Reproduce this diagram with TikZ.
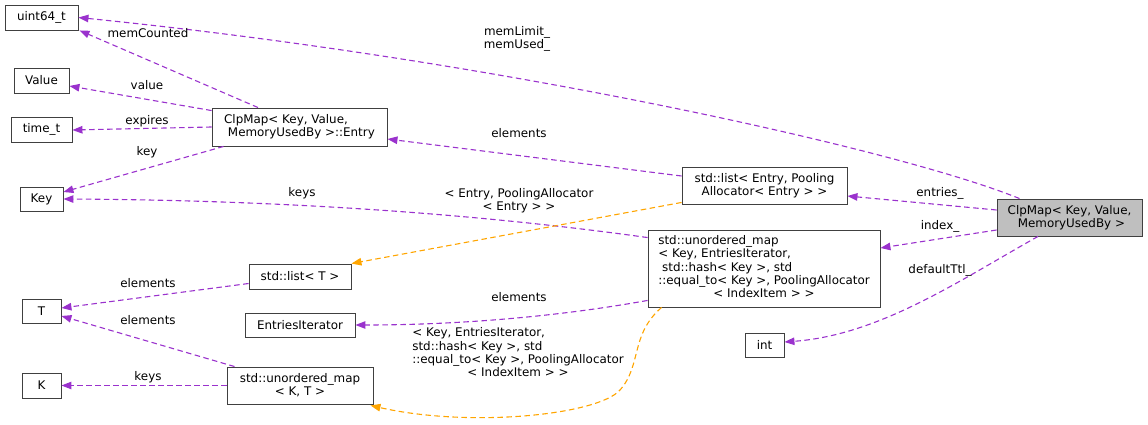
\documentclass[tikz,border=0pt]{standalone}
\usepackage{fontspec}
\setmainfont{DejaVu Sans}
\usetikzlibrary{arrows.meta}
\definecolor{mem}{HTML}{9A32CD}
\definecolor{tpl}{HTML}{FFA500}
\definecolor{bord}{HTML}{404040}
\tikzset{
  box/.style={draw=bord, line width=0.9pt, inner sep=0pt, align=center, anchor=center,
    font=\fontsize{11.9}{13.3}\selectfont},
  lbl/.style={inner sep=0pt, align=center, font=\fontsize{11.9}{13.3}\selectfont},
  memedge/.style={draw=mem, line width=1.1pt, dash pattern=on 5.5pt off 3.5pt,
    -{Triangle[length=10pt,width=7.5pt,fill=mem]}},
  tpledge/.style={draw=tpl, line width=1.1pt, dash pattern=on 5.5pt off 3.5pt,
    -{Triangle[length=10pt,width=7.5pt,fill=tpl]}}
}
\begin{document}
\begin{tikzpicture}[x=1pt,y=-1pt]
\useasboundingbox (0,0) rectangle (1148,425);
% nodes
\node[box, minimum width=73pt, minimum height=25pt] (uint) at (41.5,17.5) {uint64\_t};
\node[box, minimum width=55pt, minimum height=25pt] (value) at (41.5,80.5) {Value};
\node[box, minimum width=61pt, minimum height=25pt] (time) at (41.5,129.5) {time\_t};
\node[box, minimum width=43pt, minimum height=24pt] (key) at (41.5,199) {Key};
\node[box, minimum width=39pt, minimum height=24pt] (T) at (41.5,311) {T};
\node[box, minimum width=39pt, minimum height=25pt] (K) at (41.5,385.5) {K};
\node[box, align=left, minimum width=175pt, minimum height=38pt] (entry) at (299.5,127) {ClpMap< Key, Value,\\\hspace*{0.32em}MemoryUsedBy >::Entry};
\node[box, minimum width=102pt, minimum height=25pt] (listT) at (300,276.5) {std::list< T >};
\node[box, minimum width=110pt, minimum height=24pt] (eiter) at (300,325) {EntriesIterator};
\node[box, minimum width=146pt, minimum height=37pt] (umapKT) at (300,385.5) {std::unordered\_map\\< K, T >};
\node[box, minimum width=165pt, minimum height=37pt] (listE) at (764.5,185.5) {std::list< Entry, Pooling\\Allocator< Entry > >};
\node[box, minimum width=232pt, minimum height=77pt] (bigmap) at (764,268.5) {\begin{tabular}{@{}l@{}}std::unordered\_map\\< Key, EntriesIterator,\\\hspace*{0.32em}std::hash< Key >, std\\::equal\_to< Key >, PoolingAllocator\\\multicolumn{1}{@{}c@{}}{< IndexItem > >}\end{tabular}};
\node[box, minimum width=39pt, minimum height=24pt] (int) at (764.5,345) {int};
\node[box, fill=black!25, minimum width=145pt, minimum height=37pt] (main) at (1069.5,217.5) {ClpMap< Key, Value,\\\hspace*{0.32em}MemoryUsedBy >};
% edges
\draw[memedge] ([xshift=-50pt]main.north) .. controls (900,150) and (500,60) .. (uint.east);
\draw[memedge] ([xshift=-41.5pt]entry.north) -- ([xshift=1pt]uint.south east);
\draw[memedge] ([yshift=-3pt]entry.north west) -- ([yshift=-5.5pt]value.east);
\draw[memedge] (entry.west) -- ([yshift=-0.5pt]time.east);
\draw[memedge] ([xshift=12pt]entry.south west) -- ([yshift=7pt]key.east);
\draw[memedge] ([yshift=-8pt]bigmap.north west) .. controls (450,210) and (250,200) .. (key.east);
\draw[memedge] ([yshift=9.5pt]listE.west) -- ([yshift=-12pt]entry.east);
\draw[memedge] ([yshift=7.5pt]main.west) -- ([yshift=-10.5pt]listE.east);
\draw[memedge] ([yshift=-12.5pt]main.west) -- ([yshift=20.5pt]bigmap.east);
\draw[memedge] ([xshift=-31.5pt]main.south) .. controls (960,280) and (880,335) .. ([yshift=3pt]int.east);
\draw[tpledge] ([yshift=2pt]listE.south west) -- (listT.north east);
\draw[memedge] ([yshift=-7pt]listT.west) -- ([yshift=3pt]T.east);
\draw[memedge] ([xshift=8pt]umapKT.north west) -- ([yshift=-5pt]T.east);
\draw[memedge] (umapKT.west) -- (K.east);
\draw[memedge] ([yshift=7pt]bigmap.south west) .. controls (550,318) and (450,325) .. (eiter.east);
\draw[tpledge] ([xshift=14pt]bigmap.south west) .. controls (630,335) and (642,365) .. (620,390) .. controls (598,415) and (470,428) .. ([xshift=-3pt,yshift=-1pt]umapKT.south east);
% labels
\node[lbl] (l-mem) at (517,39) {memLimit\_\\memUsed\_};
\node[lbl] (l-memc) at (148,33) {memCounted};
\node[lbl] (l-value) at (147,85) {value};
\node[lbl] (l-exp) at (147,121) {expires};
\node[lbl] (l-key) at (147,152) {key};
\node[lbl] (l-keys) at (302,193) {keys};
\node[lbl] (l-el1) at (519,133) {elements};
\node[lbl] (l-tpl1) at (519,201) {< Entry, PoolingAllocator\\< Entry > >};
\node[lbl] (l-ent) at (940,193) {entries\_};
\node[lbl] (l-idx) at (940,226) {index\_};
\node[lbl] (l-ttl) at (940,270) {defaultTtl\_};
\node[lbl] (l-el2) at (148,283) {elements};
\node[lbl] (l-el3) at (148,320) {elements};
\node[lbl] (l-keys2) at (148,377) {keys};
\node[lbl] (l-el4) at (519,297) {elements};
\node[lbl] (l-tpl2) at (518,354) {\begin{tabular}{@{}l@{}}< Key, EntriesIterator,\\std::hash< Key >, std\\::equal\_to< Key >, PoolingAllocator\\\multicolumn{1}{@{}c@{}}{< IndexItem > >}\end{tabular}};
\end{tikzpicture}
\end{document}
